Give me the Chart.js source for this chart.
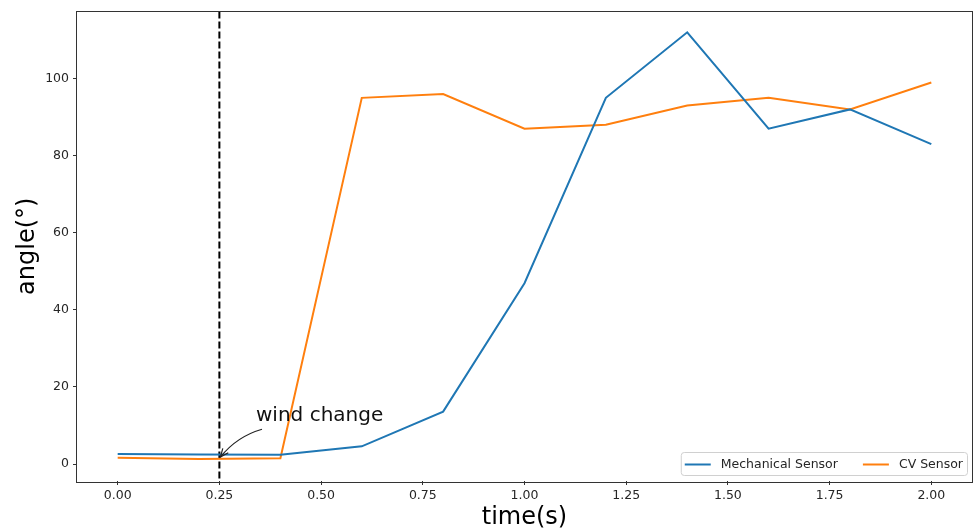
<!DOCTYPE html>
<html>
<head>
<meta charset="utf-8">
<script src="https://cdn.jsdelivr.net/npm/chart.js@4/dist/chart.umd.min.js"></script>
<style>
  html, body { margin: 0; padding: 0; background: #fff; }
  #wrap { width: 974px; height: 531px; }
</style>
</head>
<body>
<div id="wrap"><canvas id="chart" width="974" height="531"></canvas></div>
<script>
// time samples (s)
const times = [0.0, 0.2, 0.4, 0.6, 0.8, 1.0, 1.2, 1.4, 1.6, 1.8, 2.0];
// angles (deg)
const mechanical = [2.6, 2.5, 2.4, 4.6, 13.6, 46.9, 95, 112, 87, 92, 83];
const cvSensor = [1.6, 1.3, 1.5, 95, 96, 87, 88, 93, 95, 92, 99];

const xTicks = [0, 0.25, 0.5, 0.75, 1.0, 1.25, 1.5, 1.75, 2.0];
const yTicks = [0, 20, 40, 60, 80, 100];

const windChangeX = 0.25;
const windLabel = "wind change";
const windLabelAt = { x: 0.34, y: 11.1 };
const windArrowTo = { x: 0.25, y: 1.8 };

const FONT = "'DejaVu Sans', sans-serif";
const INK = "#262626";

function pts(ys) {
  return times.map((t, i) => ({ x: t, y: ys[i] }));
}

// dashed marker, frame, annotation and legend
const extras = {
  id: 'extras',
  beforeDatasetsDraw(chart) {
    const ctx = chart.ctx, a = chart.chartArea;
    const px = chart.scales.x.getPixelForValue(windChangeX);
    ctx.save();
    ctx.strokeStyle = '#000';
    ctx.lineWidth = 2;
    ctx.setLineDash([7, 3]);
    ctx.beginPath();
    ctx.moveTo(px, a.top);
    ctx.lineTo(px, a.bottom);
    ctx.stroke();
    ctx.restore();
  },
  afterDatasetsDraw(chart) {
    const ctx = chart.ctx, a = chart.chartArea;
    const xs = chart.scales.x, ys = chart.scales.y;

    // frame
    ctx.save();
    ctx.strokeStyle = '#333';
    ctx.lineWidth = 1;
    ctx.strokeRect(Math.round(a.left) - 0.5, Math.round(a.top) - 0.5,
                   Math.round(a.right - a.left) + 1, Math.round(a.bottom - a.top) + 1);
    ctx.restore();

    // annotation text
    const tx = xs.getPixelForValue(windLabelAt.x);
    const ty = ys.getPixelForValue(windLabelAt.y);
    ctx.save();
    ctx.fillStyle = '#111';
    ctx.font = "20px " + FONT;
    ctx.textAlign = 'left';
    ctx.textBaseline = 'alphabetic';
    ctx.fillText(windLabel, tx, ty);

    // curved arrow
    const sx = tx + 6, sy = ty + 8;
    const ex = xs.getPixelForValue(windArrowTo.x) + 1;
    const ey = ys.getPixelForValue(windArrowTo.y);
    const mx = (sx + ex) / 2, my = (sy + ey) / 2;
    const dx = ex - sx, dy = ey - sy, len = Math.hypot(dx, dy);
    const cx = mx - 8 * (dy / len), cy = my + 8 * (dx / len);
    ctx.strokeStyle = '#222';
    ctx.lineWidth = 1.2;
    ctx.beginPath();
    ctx.moveTo(sx, sy);
    ctx.quadraticCurveTo(cx, cy, ex, ey);
    ctx.stroke();
    const ang = Math.atan2(ey - cy, ex - cx);
    const hl = 9;
    ctx.beginPath();
    ctx.moveTo(ex - hl * Math.cos(ang - 0.4), ey - hl * Math.sin(ang - 0.4));
    ctx.lineTo(ex, ey);
    ctx.lineTo(ex - hl * Math.cos(ang + 0.4), ey - hl * Math.sin(ang + 0.4));
    ctx.stroke();
    ctx.restore();

    // legend (two columns, lower right)
    const items = chart.data.datasets;
    ctx.save();
    ctx.font = "12.5px " + FONT;
    const handle = 26, gap = 10, colSpace = 25, padX = 4;
    let w = padX * 2;
    items.forEach((d, i) => {
      w += handle + gap + ctx.measureText(d.label).width;
      if (i < items.length - 1) w += colSpace;
    });
    const h = 23;
    const bx = a.right - 5 - w, by = a.bottom - 6 - h;
    ctx.fillStyle = 'rgba(255,255,255,0.8)';
    ctx.strokeStyle = '#d0d0d0';
    ctx.lineWidth = 1;
    ctx.beginPath();
    ctx.roundRect(bx + 0.5, by + 0.5, w, h, 3);
    ctx.fill();
    ctx.stroke();
    let cxp = bx + padX;
    const cyp = by + h / 2 + 1;
    items.forEach((d) => {
      ctx.strokeStyle = d.borderColor;
      ctx.lineWidth = 2;
      ctx.beginPath();
      ctx.moveTo(cxp, cyp);
      ctx.lineTo(cxp + handle, cyp);
      ctx.stroke();
      ctx.fillStyle = INK;
      ctx.textBaseline = 'middle';
      ctx.fillText(d.label, cxp + handle + gap, cyp);
      cxp += handle + gap + ctx.measureText(d.label).width + colSpace;
    });
    ctx.restore();
  }
};

new Chart(document.getElementById('chart'), {
  type: 'line',
  data: {
    datasets: [
      { label: 'Mechanical Sensor', data: pts(mechanical), borderColor: '#1f77b4',
        borderWidth: 2, pointRadius: 0, tension: 0, fill: false },
      { label: 'CV Sensor', data: pts(cvSensor), borderColor: '#ff7f0e',
        borderWidth: 2, pointRadius: 0, tension: 0, fill: false }
    ]
  },
  options: {
    responsive: false,
    animation: false,
    layout: { padding: { top: 11, right: 2, left: 0, bottom: 0 } },
    plugins: { legend: { display: false }, tooltip: { enabled: false } },
    scales: {
      x: {
        type: 'linear',
        min: -0.1, max: 2.1,
        afterBuildTicks: (s) => { s.ticks = xTicks.map(v => ({ value: v })); },
        afterFit: (s) => { s.height = 50; },
        border: { display: false },
        grid: { drawOnChartArea: false, drawTicks: true, tickLength: 4, tickColor: '#333' },
        ticks: {
          color: INK, padding: 3, maxRotation: 0, autoSkip: false,
          font: { family: FONT, size: 12.5 },
          callback: (v) => Number(v).toFixed(2)
        },
        title: { display: true, text: 'time(s)', color: '#000',
                 font: { family: FONT, size: 24, lineHeight: 1.1 }, padding: { top: 0, bottom: 0 } }
      },
      y: {
        min: -4.4, max: 117.4,
        afterBuildTicks: (s) => { s.ticks = yTicks.map(v => ({ value: v })); },
        afterFit: (s) => { s.width = 77; },
        border: { display: false },
        grid: { drawOnChartArea: false, drawTicks: true, tickLength: 4, tickColor: '#333' },
        ticks: {
          color: INK, padding: 4,
          font: { family: FONT, size: 12.5 },
          callback: (v) => String(v)
        },
        title: { display: true, text: 'angle(°)', color: '#000',
                 font: { family: FONT, size: 24, lineHeight: 1.2 }, padding: { top: 13, bottom: 4 } }
      }
    }
  },
  plugins: [extras]
});
</script>
</body>
</html>
